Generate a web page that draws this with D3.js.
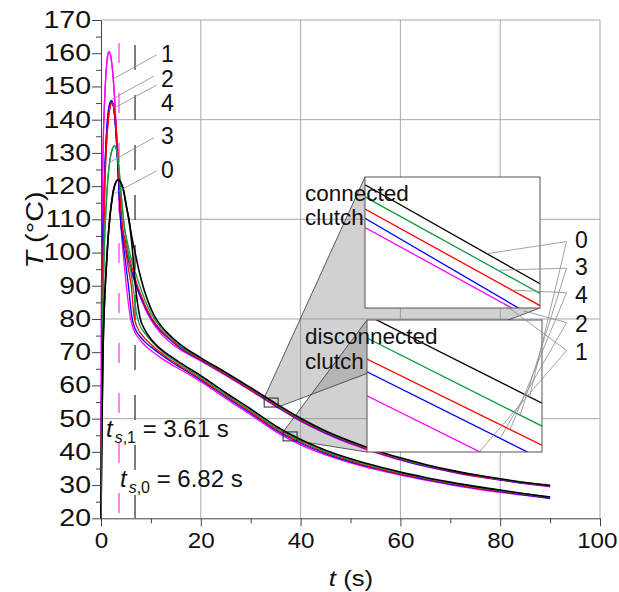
<!DOCTYPE html>
<html>
<head>
<meta charset="utf-8">
<script src="https://cdn.jsdelivr.net/npm/d3@7"></script>
<style>
body { margin: 0; background: #fff; }
text { font-family: "Liberation Sans", Arial, sans-serif; fill: #111; }
</style>
</head>
<body>
<svg id="chart" width="619" height="592"></svg>
<script>
// cases, in drawing order of the legend numbers
var caseIds = ["0", "1", "2", "3", "4"];
var caseColors = ["#000000", "#ff00ff", "#0000ff", "#139a43", "#ff0000"];

// heating phase (shared by both clutch states), [t, T]
var heat0 = [[0,20],[0.2,50],[0.4,70],[0.7,85],[1.0,94],[1.4,104],[1.8,111],[2.3,117],[2.8,120.5],[3.5,122],[4.0,121],[4.5,118.8],[5.1,113.8],[5.6,109.8]];
var heat1 = [[0,20],[0.08,80],[0.2,108],[0.4,130],[0.7,145],[1.0,154],[1.3,159],[1.6,160.5],[1.9,159.5],[2.3,155],[2.7,147],[3.0,139],[3.3,129.5],[3.6,119],[3.9,110]];
var heat2 = [[0,20],[0.1,55],[0.2,80],[0.4,104],[0.7,122],[1.0,133],[1.4,141.5],[1.8,145],[2.1,145.7],[2.5,144],[2.9,138],[3.3,128],[3.7,116],[4.1,107]];
var heat3 = [[0,20],[0.15,55],[0.35,80],[0.7,103],[1.0,113],[1.4,122.5],[1.8,128],[2.3,131.3],[2.7,132.1],[3.1,131],[3.5,127],[3.9,120],[4.3,113],[4.7,107.5]];
var heat4 = [[0,20],[0.1,52],[0.25,80],[0.5,104],[0.8,122],[1.1,132.5],[1.5,140.5],[1.9,144.3],[2.2,145.1],[2.6,143.5],[3.0,138],[3.4,129],[3.8,118],[4.2,109]];

// early cooling, connected clutch
var conn0 = [[6.2,104.5],[6.9,99.5],[7.7,94],[8.5,89.5],[9.5,85],[10.5,81.5],[12,78],[14,74.8]];
var conn1 = [[4.5,104],[5.2,99],[6,94.5],[7,90],[8,86],[9,82.6],[10,79.8],[12,75.6],[14,72.8]];
var conn2 = [[4.7,102.5],[5.4,98.5],[6.2,94.3],[7.1,90],[8.1,86.2],[9.1,82.9],[10.1,80.1],[12,76.3],[14,73.5]];
var conn3 = [[5.3,103],[6,98.5],[7,93.5],[8,89],[9,85],[10,81.8],[12,77.3],[14,74.3]];
var conn4 = [[4.8,104],[5.5,99.5],[6.3,95],[7.2,90.5],[8.2,86.5],[9.2,83],[10.2,80.2],[12,76.6],[14,73.8]];

// early cooling, disconnected clutch
var disc0 = [[6.1,103.8],[6.4,99],[6.9,90],[7.8,80.5],[8.8,76.7],[10,74.0],[12,70.9],[14,68.7]];
var disc1 = [[4.2,104],[4.6,97.5],[5.0,91],[5.5,84.5],[5.9,80.3],[6.5,77],[7.7,73.9],[9,71.7],[10,70.5],[12,68.3],[14,66.4]];
var disc2 = [[4.5,102],[4.8,98.5],[5.5,90],[6.2,80.5],[6.8,77.2],[7.8,74.8],[9,72.8],[10,71.6],[12,69.3],[14,67.2]];
var disc3 = [[5.1,103.5],[5.4,100],[5.8,96],[6.4,90],[7.2,81],[7.8,78],[8.8,75.7],[10,73.5],[12,70.5],[14,68.2]];
var disc4 = [[4.6,104],[5.0,100],[5.5,95],[6.1,89.5],[6.6,81],[7.2,77.7],[8.2,75.2],[10,72.4],[12,69.8],[14,67.6]];

// tails on a common time grid
var tailTimes = [16,20,25,30,35,40,45,50,55,60,65,70,75,80,85,90];
var connTail0 = [72.2,68.3,63.9,59.3,54.6,50.1,46.3,43.2,40.5,38.2,36.2,34.5,33.1,31.9,30.8,29.9];
var connTail1 = [70.7,67.4,63.0,58.4,53.7,49.2,45.5,42.4,39.8,37.5,35.6,34.0,32.6,31.5,30.4,29.5];
var connTail2 = [71.1,67.6,63.2,58.6,53.9,49.4,45.7,42.6,40.0,37.7,35.7,34.1,32.7,31.6,30.5,29.6];
var connTail3 = [71.7,68.1,63.7,59.1,54.4,49.9,46.1,43.0,40.3,38.0,36.0,34.4,33.0,31.8,30.7,29.8];
var connTail4 = [71.4,67.8,63.4,58.8,54.1,49.6,45.9,42.8,40.1,37.8,35.9,34.2,32.8,31.7,30.6,29.7];
var discTail0 = [66.7,62.9,57.8,52.9,47.8,43.7,40.5,37.9,35.8,33.9,32.3,30.9,29.6,28.5,27.4,26.4];
var discTail1 = [64.7,61.1,56.1,51.2,46.1,42.1,39.1,36.7,34.7,33.0,31.5,30.1,28.9,27.8,26.9,25.9];
var discTail2 = [65.3,61.6,56.6,51.7,46.6,42.6,39.5,37.0,35.0,33.2,31.7,30.3,29.1,28.0,27.0,26.0];
var discTail3 = [66.2,62.4,57.3,52.4,47.3,43.3,40.1,37.6,35.5,33.7,32.1,30.7,29.4,28.3,27.3,26.3];
var discTail4 = [65.7,61.9,56.9,52.0,46.9,42.9,39.8,37.3,35.2,33.4,31.9,30.5,29.2,28.2,27.2,26.2];

// zoom windows and the magnified lines (T at window start / end), case order 0..4
var connZoomT = [32.7, 35.5], connZoomTemp = [53.5, 56.2];
var connZoomStart = [56.04, 55.16, 55.35, 55.79, 55.54];
var connZoomEnd = [54.0, 53.18, 53.24, 53.8, 53.55];
var connLeaderT = [34.65, 34.9, 35.23, 34.83, 35.05];
var discZoomT = [36.5, 39.3], discZoomTemp = [43.3, 46.0];
var discZoomStart = [46.1, 44.45, 44.94, 45.63, 45.2];
var discZoomEnd = [44.3, 42.67, 43.15, 43.83, 43.44];
var discLeaderT = [39.1, 38.3, 38.63, 38.95, 38.79];

// switching times
var switchTimes = [3.61, 6.82];

// axes
var xTicks = [0, 20, 40, 60, 80, 100];
var xMinor = [10, 30, 50, 70, 90];
var yTicks = [20,30,40,50,60,70,80,90,100,110,120,130,140,150,160,170];
var yMinor = [25,35,45,55,65,75,85,95,105,115,125,135,145,155,165];
var xGrid = [20, 40, 60, 80, 100];
var yGrid = [50, 80, 110, 140, 170];

// peak labels: case index, anchor [t,T], elbow [t,T], text [t,T]
var peakLabels = [
  [1, [2.46,152.3], [11.16,159.5], [12.0,157.4]],
  [2, [2.14,146.1], [10.62,153.1], [12.0,149.7]],
  [4, [2.46,143.4], [11.16,150.4], [12.0,142.6]],
  [3, [1.94,127.3], [10.62,134.6], [12.0,132.6]],
  [0, [2.46,117.6], [11.16,124.6], [12.0,122.5]]
];
// right labels: case index, anchor [t,T], text [t,T]
var sideLabels = [
  [0, [93.3,103.3], [95.0,101.3]],
  [3, [93.3,95.3], [95.0,93.2]],
  [4, [93.3,87.9], [95.0,84.9]],
  [2, [93.3,78.9], [95.0,76.2]],
  [1, [93.3,70.5], [95.0,67.7]]
];

var heats = [heat0, heat1, heat2, heat3, heat4];
var conns = [conn0, conn1, conn2, conn3, conn4];
var discs = [disc0, disc1, disc2, disc3, disc4];
var connTails = [connTail0, connTail1, connTail2, connTail3, connTail4];
var discTails = [discTail0, discTail1, discTail2, discTail3, discTail4];

function build(heat, early, tail) {
  return heat.concat(early, tail.map(function(v, i) { return [tailTimes[i], v]; }));
}

var svg = d3.select("#chart");
var x = d3.scaleLinear().domain([0, 100]).range([101, 600]);
var y = d3.scaleLinear().domain([20, 170]).range([518.3, 20]);

// grid
svg.append("g").selectAll("line").data(xGrid).enter().append("line")
  .attr("x1", function(d){ return x(d); }).attr("x2", function(d){ return x(d); })
  .attr("y1", y(20)).attr("y2", y(170))
  .attr("stroke", "#a8a8a8").attr("stroke-width", 1);
svg.append("g").selectAll("line").data(yGrid).enter().append("line")
  .attr("y1", function(d){ return y(d); }).attr("y2", function(d){ return y(d); })
  .attr("x1", x(0)).attr("x2", x(100))
  .attr("stroke", "#a8a8a8").attr("stroke-width", 1);

// inset boxes layout
var connBox = {x: 365, y: 177, w: 175, h: 131};
var discBox = {x: 367, y: 320, w: 175, h: 132};

function smallRect(tw, Tw) {
  return {x0: x(tw[0]), x1: x(tw[1]), y0: y(Tw[1]), y1: y(Tw[0])};
}
var connSmall = smallRect(connZoomT, connZoomTemp);
var discSmall = smallRect(discZoomT, discZoomTemp);

// connector fills
var polys = [
  [[connSmall.x0, connSmall.y0], [connBox.x, connBox.y], [connBox.x + connBox.w, connBox.y + connBox.h], [connSmall.x1, connSmall.y1]],
  [[discSmall.x0, discSmall.y0], [discBox.x, discBox.y], [discBox.x, discBox.y + discBox.h], [discSmall.x1, discSmall.y1]]
];
svg.append("g").selectAll("polygon").data(polys).enter().append("polygon")
  .attr("points", function(d){ return d.map(function(p){ return p.join(","); }).join(" "); })
  .attr("fill", "#8c8c8c").attr("fill-opacity", 0.4).attr("stroke", "none");
svg.append("g").selectAll("path").data(polys).enter().append("path")
  .attr("d", function(d){ return "M" + d[0] + "L" + d[1] + "M" + d[2] + "L" + d[3]; })
  .attr("fill", "none").attr("stroke", "#333").attr("stroke-width", 0.8);

// switching time markers
svg.append("line").attr("x1", x(switchTimes[0])).attr("x2", x(switchTimes[0]))
  .attr("y1", y(163.1)).attr("y2", y(20))
  .attr("stroke", "#ff33ff").attr("stroke-width", 1.2).attr("stroke-dasharray", "20,30");
svg.append("line").attr("x1", x(switchTimes[1])).attr("x2", x(switchTimes[1]))
  .attr("y1", y(162.5)).attr("y2", y(20))
  .attr("stroke", "#555").attr("stroke-width", 1.5).attr("stroke-dasharray", "25,25");

// curves
var line = d3.line().x(function(d){ return x(d[0]); }).y(function(d){ return y(d[1]); }).curve(d3.curveMonotoneX);
var drawOrder = [1, 2, 4, 3, 0];
var curves = svg.append("g").attr("fill", "none");
drawOrder.forEach(function(i) {
  [build(heats[i], conns[i], connTails[i]), build(heats[i], discs[i], discTails[i])].forEach(function(c) {
    curves.append("path").attr("d", line(c))
      .attr("stroke", caseColors[i]).attr("stroke-width", i === 0 ? 1.6 : 1.3);
  });
});

// small zoom boxes
[connSmall, discSmall].forEach(function(r) {
  svg.append("rect").attr("x", r.x0).attr("y", r.y0)
    .attr("width", r.x1 - r.x0).attr("height", r.y1 - r.y0)
    .attr("fill", "none").attr("stroke", "#222").attr("stroke-width", 1);
});

// axes
var axisColor = "#444";
var gx = svg.append("g").attr("transform", "translate(0," + y(20) + ")")
  .call(d3.axisBottom(x).tickValues(xTicks).tickSize(8).tickSizeOuter(0).tickPadding(6).tickFormat(d3.format("d")));
var gxm = svg.append("g").attr("transform", "translate(0," + y(20) + ")")
  .call(d3.axisBottom(x).tickValues(xMinor).tickSize(5).tickSizeOuter(0).tickFormat(""));
var gy = svg.append("g").attr("transform", "translate(" + x(0) + ",0)")
  .call(d3.axisLeft(y).tickValues(yTicks).tickSize(9).tickSizeOuter(0).tickPadding(1).tickFormat(d3.format("d")));
var gym = svg.append("g").attr("transform", "translate(" + x(0) + ",0)")
  .call(d3.axisLeft(y).tickValues(yMinor).tickSize(5).tickSizeOuter(0).tickFormat(""));
[gx, gxm, gy, gym].forEach(function(g) {
  g.selectAll("path,line").attr("stroke", axisColor);
  g.selectAll("text").attr("fill", "#111")
    .attr("font-family", "'Liberation Sans', Arial, sans-serif");
});
gx.selectAll("text").attr("font-size", 22).attr("transform", "scale(1.1,1)");
// keep the last label inside the picture
gx.selectAll("text").filter(function(d){ return d === 100; })
  .attr("text-anchor", "end").attr("x", 17 / 1.1);
gy.selectAll("text").attr("font-size", 23).attr("transform", "scale(1.24,1)").attr("x", -10 / 1.24);
gxm.select(".domain").remove();
gym.select(".domain").remove();

// axis titles
var yt = svg.append("text").attr("transform", "translate(43,230) rotate(-90) scale(1.25,1)")
  .attr("text-anchor", "middle").attr("font-size", 23);
yt.append("tspan").attr("font-style", "italic").text("T");
yt.append("tspan").text(" (°C)");
var xt = svg.append("text").attr("transform", "translate(351,586) scale(1.12,1)")
  .attr("text-anchor", "middle").attr("font-size", 23);
xt.append("tspan").attr("font-style", "italic").text("t");
xt.append("tspan").text(" (s)");

// insets
function drawInset(box, tw, Tw, starts, ends, id) {
  var xi = d3.scaleLinear().domain(tw).range([box.x, box.x + box.w]);
  var yi = d3.scaleLinear().domain(Tw).range([box.y + box.h, box.y]);
  svg.append("clipPath").attr("id", id).append("rect")
    .attr("x", box.x).attr("y", box.y).attr("width", box.w).attr("height", box.h);
  svg.append("rect").attr("x", box.x).attr("y", box.y).attr("width", box.w).attr("height", box.h)
    .attr("fill", "#fff");
  var g = svg.append("g").attr("clip-path", "url(#" + id + ")");
  var li = d3.line().x(function(d){ return xi(d[0]); }).y(function(d){ return yi(d[1]); });
  drawOrder.forEach(function(i) {
    g.append("path").attr("d", li([[tw[0], starts[i]], [tw[1], ends[i]]]))
      .attr("fill", "none").attr("stroke", caseColors[i]).attr("stroke-width", 1.3);
  });
  svg.append("rect").attr("x", box.x).attr("y", box.y).attr("width", box.w).attr("height", box.h)
    .attr("fill", "none").attr("stroke", "#555").attr("stroke-width", 1);
  return function(i, t) {
    var T = starts[i] + (ends[i] - starts[i]) * (t - tw[0]) / (tw[1] - tw[0]);
    return [xi(t), yi(T)];
  };
}
var connAt = drawInset(connBox, connZoomT, connZoomTemp, connZoomStart, connZoomEnd, "clipConn");
var discAt = drawInset(discBox, discZoomT, discZoomTemp, discZoomStart, discZoomEnd, "clipDisc");

// leaders to the magnified lines
var leaders = svg.append("g").attr("stroke", "#8a8a8a").attr("stroke-width", 0.8).attr("fill", "none");
sideLabels.forEach(function(s) {
  var i = s[0], a = [x(s[1][0]), y(s[1][1])];
  var p1 = connAt(i, connLeaderT[i]), p2 = discAt(i, discLeaderT[i]);
  leaders.append("path").attr("d", "M" + p1 + "L" + a + "L" + p2);
  svg.append("text").attr("x", x(s[2][0])).attr("y", y(s[2][1]))
    .attr("font-size", 23).text(caseIds[i]);
});
peakLabels.forEach(function(s) {
  var i = s[0];
  leaders.append("path").attr("d", "M" + [x(s[1][0]), y(s[1][1])] + "L" + [x(s[2][0]), y(s[2][1])]);
  svg.append("text").attr("x", x(s[3][0])).attr("y", y(s[3][1]))
    .attr("font-size", 23).text(caseIds[i]);
});

// inset captions
function caption(lines, xPos, yPos) {
  lines.forEach(function(l, k) {
    svg.append("text").attr("x", xPos).attr("y", yPos + k * 24.5).attr("font-size", 22.5).text(l);
  });
}
caption(["connected", "clutch"], 305, 200.5);
caption(["disconnected", "clutch"], 305, 344);

// switching time notes
function note(sub, val, tPos, TPos) {
  var t = svg.append("text").attr("x", x(tPos)).attr("y", y(TPos)).attr("font-size", 24);
  t.append("tspan").attr("font-style", "italic").text("t");
  t.append("tspan").attr("font-size", 16).attr("dy", 6).attr("dx", 2).attr("font-style", "italic").text("s");
  t.append("tspan").attr("font-size", 16).text("," + sub);
  t.append("tspan").attr("dy", -6).text(" = " + val + " s");
}
note("1", "3.61", 1.0, 44.5);
note("0", "6.82", 3.8, 29.4);
</script>
</body>
</html>
